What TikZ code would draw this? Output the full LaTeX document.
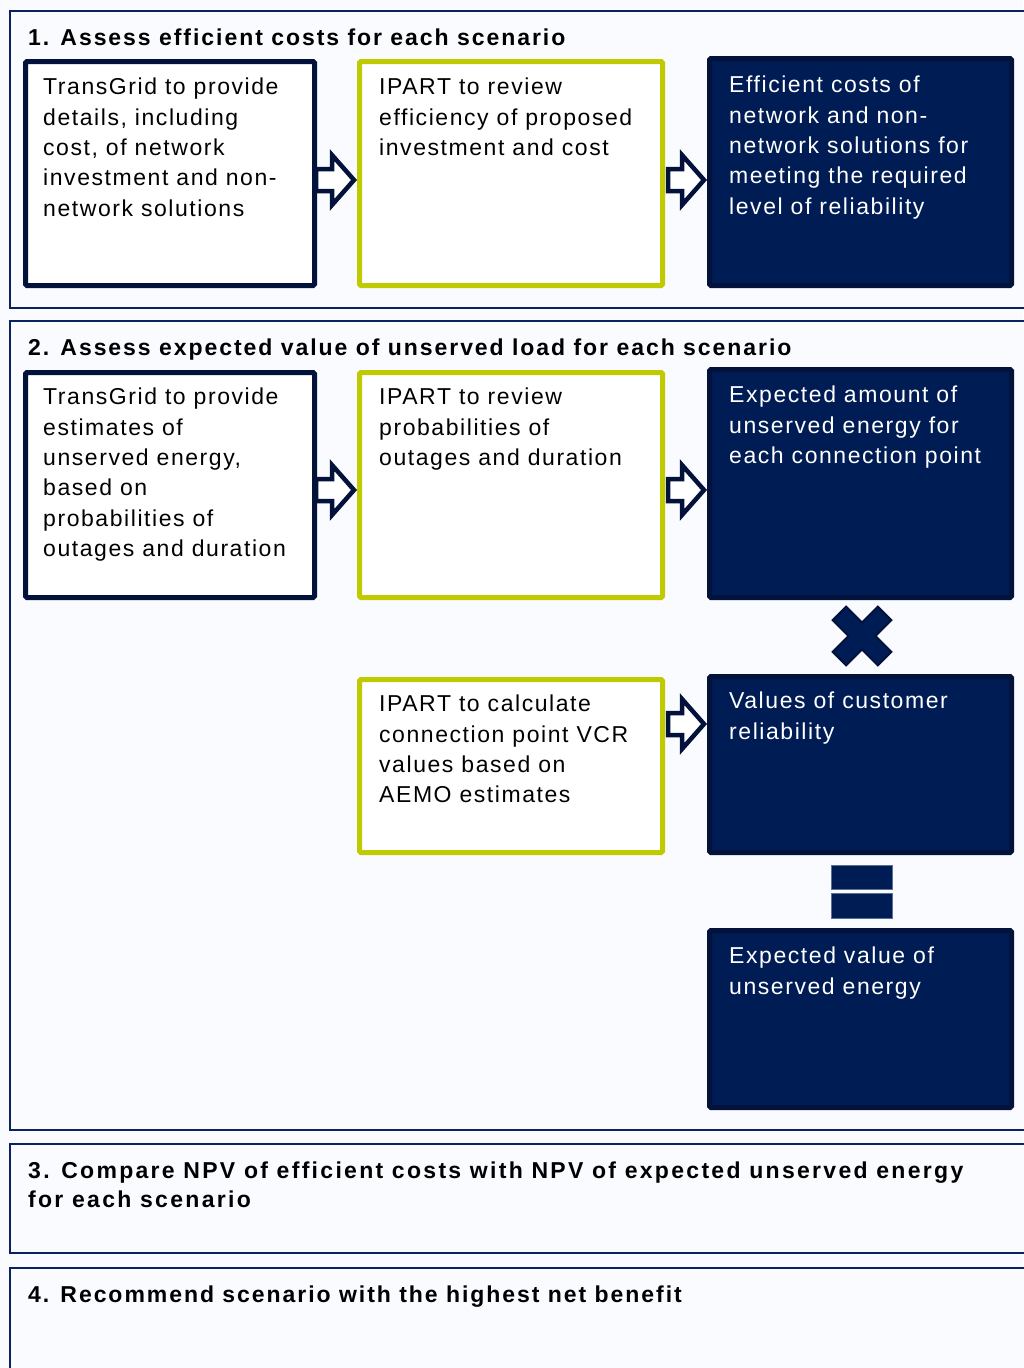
\documentclass[tikz,border=0pt]{standalone}
\usepackage{fontspec}
\setmainfont{Liberation Sans}[LetterSpace=6.8]
\newfontfamily\ttlfont{Liberation Sans}[LetterSpace=8.5]
\usetikzlibrary{calc}
\definecolor{bg}{RGB}{250,251,255}
\definecolor{navy}{RGB}{0,28,84}
\definecolor{navyd}{RGB}{3,18,58}
\definecolor{olive}{RGB}{191,202,0}
\definecolor{frame}{RGB}{10,35,95}
\definecolor{eqline}{RGB}{90,110,150}
\tikzset{
  panel/.style={draw=frame, line width=1.8pt, fill=bg},
  boxbase/.style={rectangle, line width=5pt, inner sep=0pt, anchor=north west, rounded corners=1.5pt},
  wbox/.style={boxbase, draw=navyd, fill=white},
  obox/.style={boxbase, draw=olive, fill=white},
  dbox/.style={boxbase, draw=navyd, fill=navy},
  btext/.style={anchor=north west, inner sep=0pt, align=left, font=\fontsize{23}{30.3}\selectfont, text=black},
  wtext/.style={btext, text=white},
  ttl/.style={anchor=base west, inner sep=0pt, align=left, font=\ttlfont\fontsize{23}{29}\selectfont\bfseries, text=black},
  barrow/.style={draw=navyd, fill=white, line width=4.5pt, line join=miter},
  xmark/.style={draw=navyd, fill=navy, line width=2pt, line join=miter},
  eqbar/.style={draw=eqline, fill=navy, line width=0.8pt},
}
\newcommand\dgarrow[2]{%
  \draw[barrow] ($(#1)+(0,-11)$) -- ($(#2)+(-22,-11)$) -- ($(#2)+(-22,-25)$) -- (#2)
    -- ($(#2)+(-22,25)$) -- ($(#2)+(-22,11)$) -- ($(#1)+(0,11)$) -- cycle;}
\begin{document}
\begin{tikzpicture}[x=1pt,y=-1pt]
\useasboundingbox (0,0) rectangle (1023,1368);
\fill[bg] (0,0) rectangle (1023,1368);

% panels
\draw[panel] (10,11) rectangle (1040,308);
\draw[panel] (10,321) rectangle (1040,1130);
\draw[panel] (10,1144) rectangle (1040,1253);
\draw[panel] (10,1268) rectangle (1040,1400);

% titles
\node[ttl] (T1) at (28,45) {1. Assess efficient costs for each scenario};
\node[ttl] (T2) at (28,355) {2. Assess expected value of unserved load for each scenario};
\node[ttl, font=\ttlfont\addfontfeature{LetterSpace=10}\fontsize{23}{29}\selectfont\bfseries] (T3) at (28,1207) {3. Compare NPV of efficient costs with NPV of expected unserved energy\\for each scenario};
\node[ttl] (T4) at (28,1302) {4. Recommend scenario with the highest net benefit};

% row 1
\node[wbox, minimum width=289pt, minimum height=224pt] (A1) at (23,59) {};
\node[obox, minimum width=303pt, minimum height=224pt] (B1) at (357,59) {};
\node[dbox, minimum width=302pt, minimum height=227pt] (C1) at (707,56) {};
\node[btext] (A1t) at ($(A1.north west)+(20,19)$) {TransGrid to provide\\details, including\\cost, of network\\investment and non-\\network solutions};
\node[btext] (B1t) at ($(B1.north west)+(22,19)$) {IPART to review\\efficiency of proposed\\investment and cost};
\node[wtext] (C1t) at ($(C1.north west)+(22,20)$) {Efficient costs of\\network and non-\\network solutions for\\meeting the required\\level of reliability};

% row 2
\node[wbox, minimum width=289pt, minimum height=225pt] (A2) at (23,370) {};
\node[obox, minimum width=303pt, minimum height=225pt] (B2) at (357,370) {};
\node[dbox, minimum width=302pt, minimum height=228pt] (C2) at (707,367) {};
\node[btext] (A2t) at ($(A2.north west)+(20,18)$) {TransGrid to provide\\estimates of\\unserved energy,\\based on\\probabilities of\\outages and duration};
\node[btext] (B2t) at ($(B2.north west)+(22,18)$) {IPART to review\\probabilities of\\outages and duration};
\node[wtext] (C2t) at ($(C2.north west)+(22,19)$) {Expected amount of\\unserved energy for\\each connection point};

% row 3
\node[obox, minimum width=303pt, minimum height=173pt] (B3) at (357,677) {};
\node[dbox, minimum width=302pt, minimum height=176pt] (C3) at (707,674) {};
\node[btext] (B3t) at ($(B3.north west)+(22,18)$) {IPART to calculate\\connection point VCR\\values based on\\AEMO estimates};
\node[wtext] (C3t) at ($(C3.north west)+(22,18)$) {Values of customer\\reliability};

% row 4
\node[dbox, minimum width=302pt, minimum height=177pt] (C4) at (707,928) {};
\node[wtext] (C4t) at ($(C4.north west)+(22,19)$) {Expected value of\\unserved energy};

% block arrows
\coordinate (s11) at (316,180); \coordinate (t11) at (354,180);
\coordinate (s12) at (668,180); \coordinate (t12) at (704,180);
\coordinate (s21) at (316,490); \coordinate (t21) at (354,490);
\coordinate (s22) at (668,490); \coordinate (t22) at (704,490);
\coordinate (s32) at (668,724); \coordinate (t32) at (704,724);
\dgarrow{s11}{t11}
\dgarrow{s12}{t12}
\dgarrow{s21}{t21}
\dgarrow{s22}{t22}
\dgarrow{s32}{t32}

% multiply sign
\draw[xmark, rotate around={45:(862,636)}]
  (852.5,604) -- (871.5,604) -- (871.5,626.5) -- (894,626.5) -- (894,645.5) -- (871.5,645.5)
  -- (871.5,668) -- (852.5,668) -- (852.5,645.5) -- (830,645.5) -- (830,626.5) -- (852.5,626.5) -- cycle;

% equals sign
\draw[eqbar] (831,865) rectangle (892,889);
\draw[eqbar] (831,893) rectangle (892,918);
\end{tikzpicture}
\end{document}
